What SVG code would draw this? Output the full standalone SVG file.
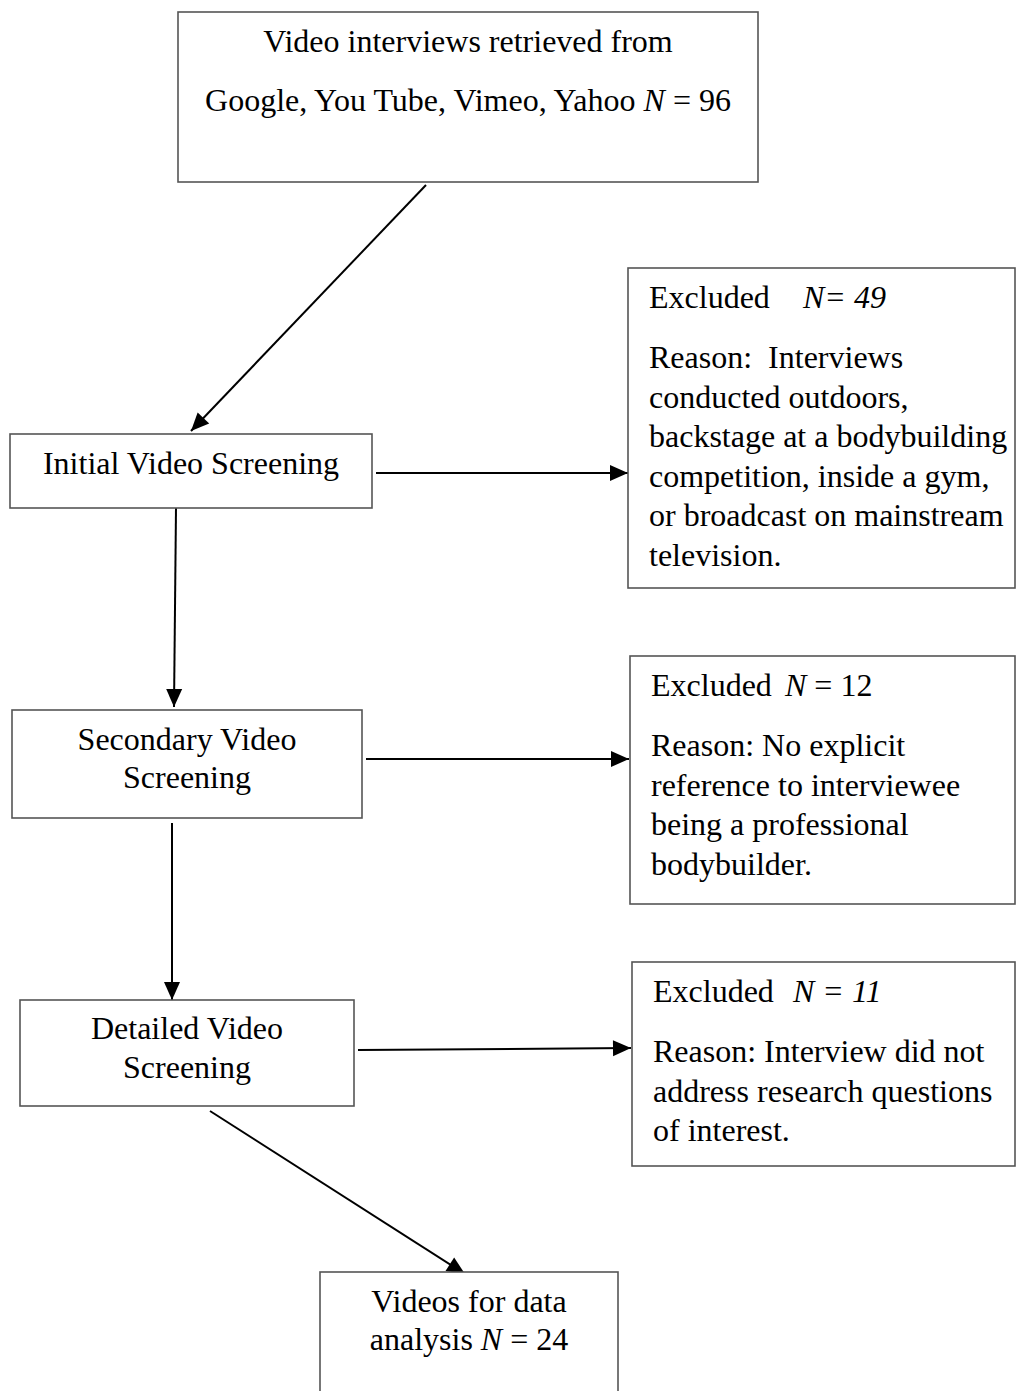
<svg xmlns="http://www.w3.org/2000/svg" width="1016" height="1391" viewBox="0 0 1016 1391">
<style>
.box{fill:#fff;stroke:#555;stroke-width:1.6}
.t{font-family:"Liberation Serif","Times New Roman",serif;font-size:32px;fill:#000}
.c{text-anchor:middle}
.i{font-style:italic}
.ln{stroke:#000;stroke-width:2;fill:none;marker-end:url(#ah)}
</style>
<defs>
<marker id="ah" markerUnits="userSpaceOnUse" markerWidth="20" markerHeight="18" refX="18" refY="8" orient="auto" overflow="visible">
<path d="M0,0 L18,8 L0,16 z" fill="#000"/>
</marker>
</defs>
<rect width="1016" height="1391" fill="#fff"/>
<g id="connectors">
<line class="ln" x1="426" y1="185" x2="191" y2="431"/>
<line class="ln" x1="376" y1="473" x2="628" y2="473"/>
<line class="ln" x1="176" y1="508" x2="174" y2="707"/>
<line class="ln" x1="366" y1="759" x2="629" y2="759"/>
<line class="ln" x1="172" y1="823" x2="172" y2="1000"/>
<line class="ln" x1="358" y1="1050" x2="631" y2="1048"/>
<line class="ln" x1="210" y1="1111" x2="465" y2="1274"/>
</g>
<g id="n-retrieved">
<rect class="box" x="178" y="12" width="580" height="170"/>
<text class="t c" x="468" y="52">Video interviews retrieved from</text>
<text class="t c" x="468" y="111">Google, You Tube, Vimeo, Yahoo <tspan class="i">N</tspan> = 96</text>
</g>
<g id="n-initial">
<rect class="box" x="10" y="434" width="362" height="74"/>
<text class="t c" x="191" y="474">Initial Video Screening</text>
</g>
<g id="n-excl1">
<rect class="box" x="628" y="268" width="387" height="320"/>
<text class="t" x="649" y="308">Excluded<tspan class="i" x="803">N= 49</tspan></text>
<text class="t" x="649" y="368">Reason:&#160; Interviews</text>
<text class="t" x="649" y="407.5">conducted outdoors,</text>
<text class="t" x="649" y="447">backstage at a bodybuilding</text>
<text class="t" x="649" y="486.5">competition, inside a gym,</text>
<text class="t" x="649" y="526">or broadcast on mainstream</text>
<text class="t" x="649" y="565.5">television.</text>
</g>
<g id="n-secondary">
<rect class="box" x="12" y="710" width="350" height="108"/>
<text class="t c" x="187" y="750">Secondary Video</text>
<text class="t c" x="187" y="788">Screening</text>
</g>
<g id="n-excl2">
<rect class="box" x="630" y="656" width="385" height="248"/>
<text class="t" x="651" y="696">Excluded<tspan class="i" x="785">N</tspan> = 12</text>
<text class="t" x="651" y="756">Reason: No explicit</text>
<text class="t" x="651" y="795.5">reference to interviewee</text>
<text class="t" x="651" y="835">being a professional</text>
<text class="t" x="651" y="874.5">bodybuilder.</text>
</g>
<g id="n-detailed">
<rect class="box" x="20" y="1000" width="334" height="106"/>
<text class="t c" x="187" y="1039">Detailed Video</text>
<text class="t c" x="187" y="1078">Screening</text>
</g>
<g id="n-excl3">
<rect class="box" x="632" y="962" width="383" height="204"/>
<text class="t" x="653" y="1002">Excluded<tspan class="i" x="793">N = 11</tspan></text>
<text class="t" x="653" y="1062">Reason: Interview did not</text>
<text class="t" x="653" y="1101.5">address research questions</text>
<text class="t" x="653" y="1141">of interest.</text>
</g>
<g id="n-final">
<rect class="box" x="320" y="1272" width="298" height="140"/>
<text class="t c" x="469" y="1312">Videos for data</text>
<text class="t c" x="469" y="1350">analysis <tspan class="i">N</tspan> = 24</text>
</g>
</svg>
